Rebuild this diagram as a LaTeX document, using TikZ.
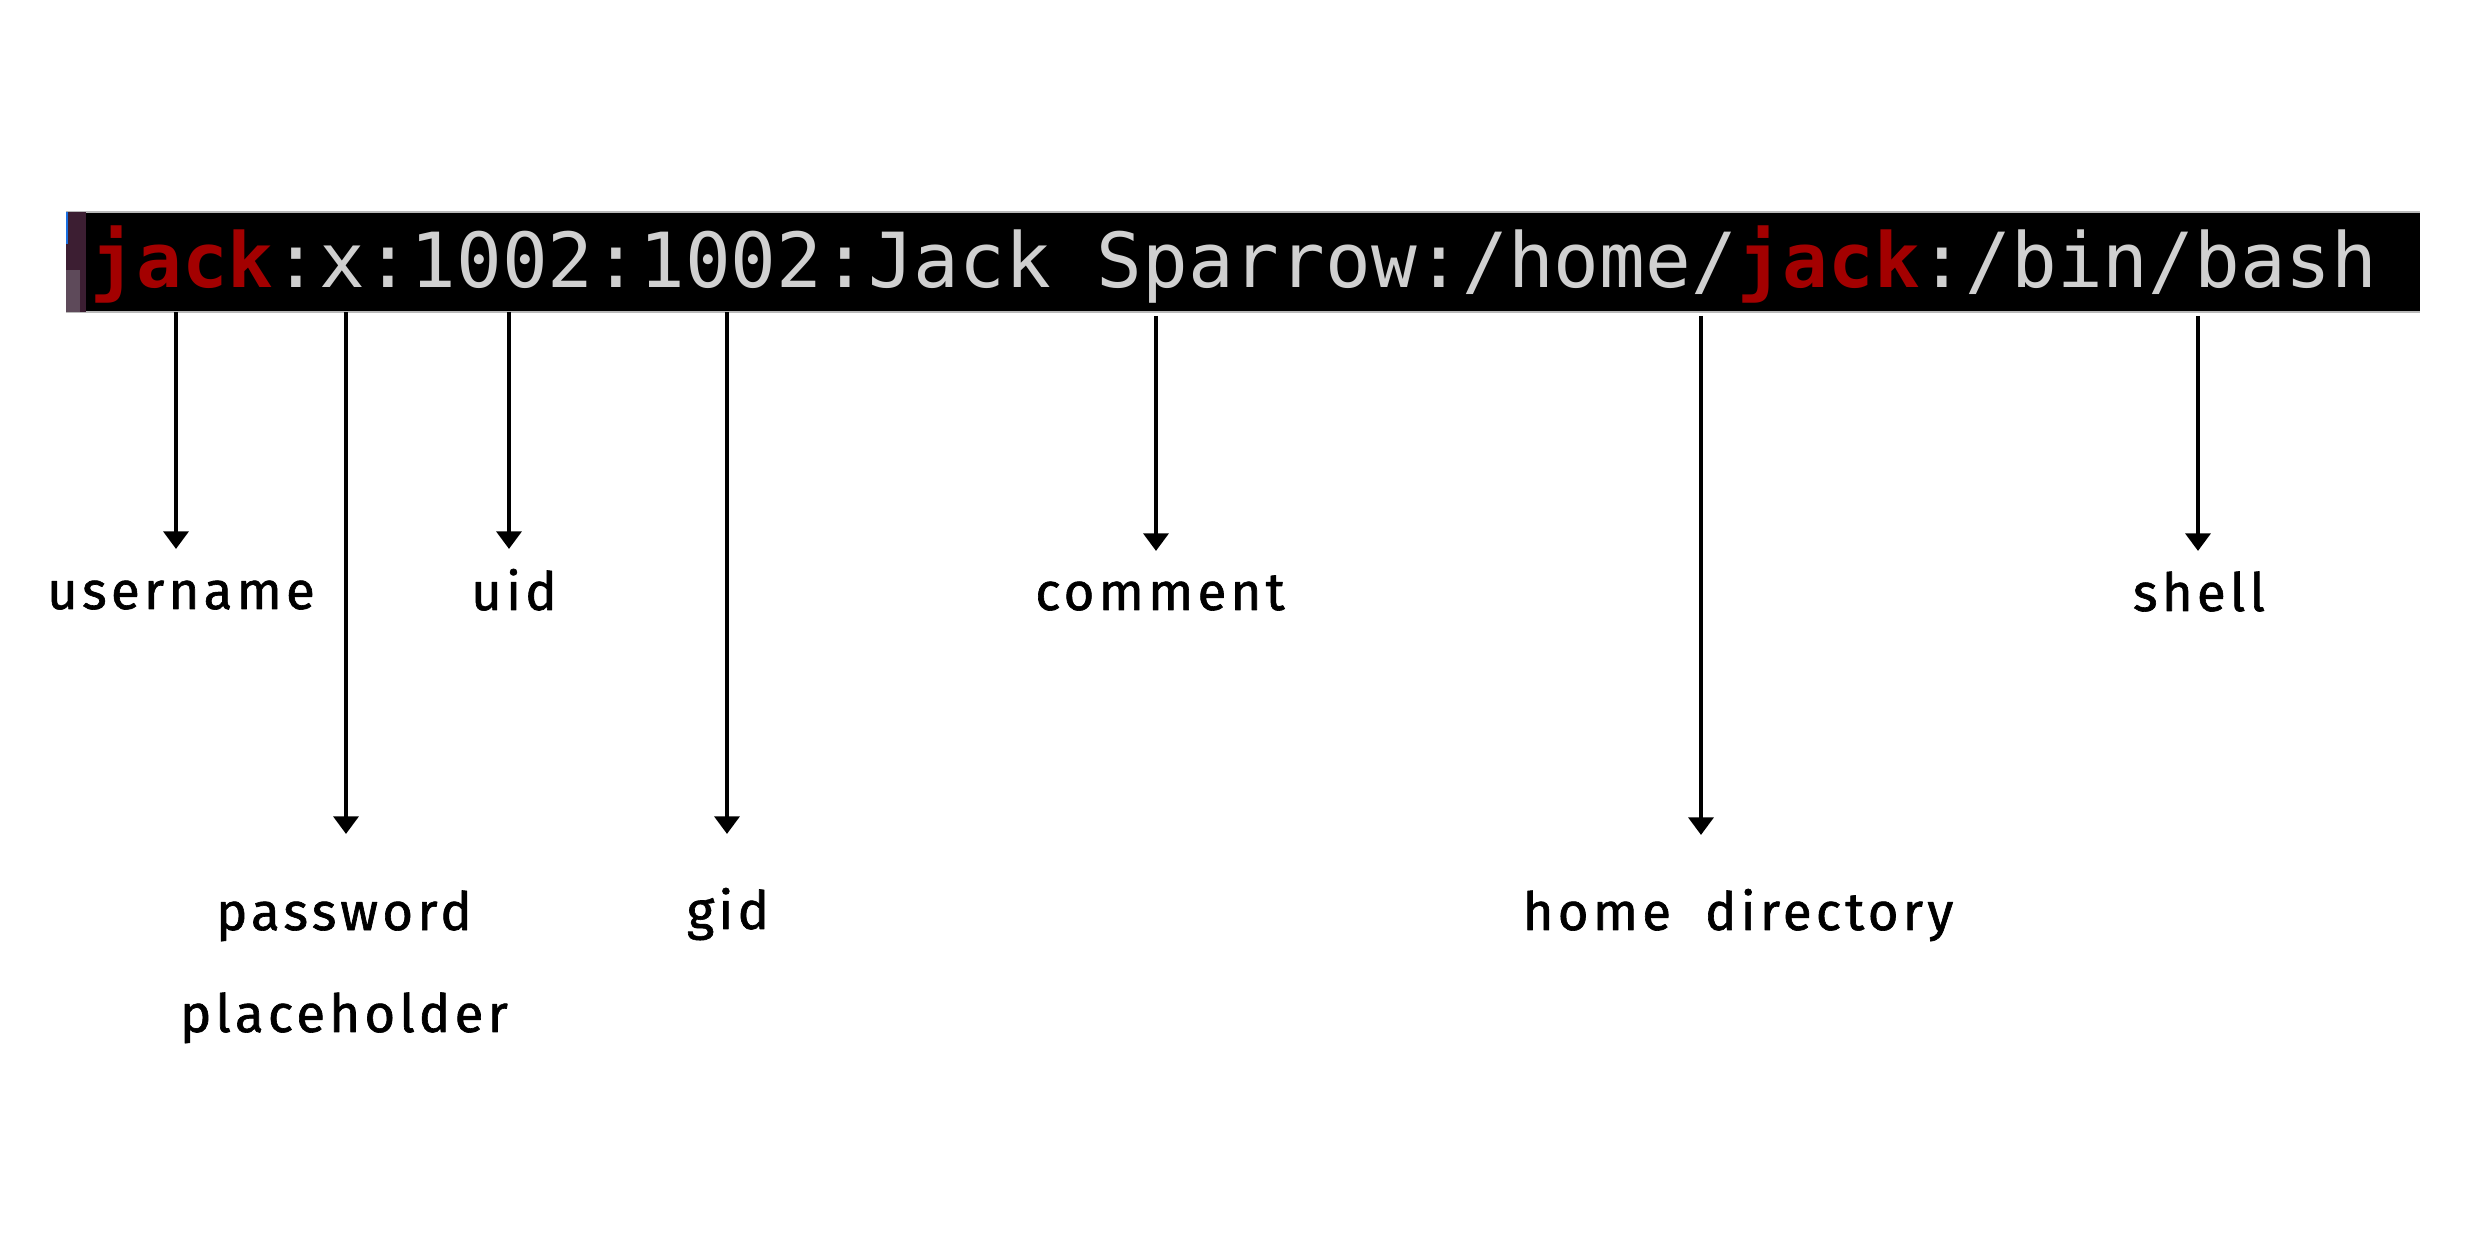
\documentclass[tikz,border=0pt]{standalone}
\usepackage{fontspec}
\setmonofont{DejaVu Sans Mono}
\newfontfamily\handfont[LetterSpace=8,FakeBold=1.2]{Fira Sans}
\usetikzlibrary{arrows.meta}
\definecolor{termred}{HTML}{A30000}
\definecolor{termgray}{HTML}{D0D0D0}
\definecolor{termedge}{HTML}{3C1E32}
\definecolor{termtab}{HTML}{5E4A5A}
\definecolor{termblue}{HTML}{1A6FE0}
\begin{document}
\begin{tikzpicture}[x=0.01cm,y=-0.01cm,line join=round,
		ptr/.style={-{Triangle[width=7pt,length=5pt]},line width=1.4pt},
		lbl/.style={font=\handfont\fontsize{15}{29}\selectfont,anchor=base,inner sep=0pt,align=center}]
	\useasboundingbox (0,0) rectangle (2480,1240);
	% terminal line
	\fill[black] (66,212) rectangle (2420,312);
	\draw[gray!55,line width=0.6pt] (66,212) -- (2420,212) (66,312) -- (2420,312);
	\fill[termedge] (66,212) rectangle (86,312);
	\fill[termtab] (66,270) rectangle (80,312);
	\fill[termblue] (66,212) rectangle (68,244);
	\node[anchor=base west,inner sep=0pt,font=\ttfamily\fontsize{21.6}{26}\selectfont,text=termgray] (entry) at (90,288)
		{\textcolor{termred}{\bfseries jack}:x:1002:1002:Jack Sparrow:/home/\textcolor{termred}{\bfseries jack}:/bin/bash};
	% fields
	\coordinate (f-user) at (176,312);
	\coordinate (f-pass) at (346,312);
	\coordinate (f-uid) at (509,312);
	\coordinate (f-gid) at (727,312);
	\coordinate (f-gecos) at (1156,316);
	\coordinate (f-home) at (1701,316);
	\coordinate (f-shell) at (2198,316);
	\coordinate (t-user) at (176,549);
	\coordinate (t-pass) at (346,834);
	\coordinate (t-uid) at (509,549);
	\coordinate (t-gid) at (727,834);
	\coordinate (t-gecos) at (1156,551);
	\coordinate (t-home) at (1701,835);
	\coordinate (t-shell) at (2198,551);
	% labels
	\node[lbl] (l-user) at (181,609) {username};
	\node[lbl] (l-pass) at (344,1032) {password\\placeholder};
	\node[lbl] (l-uid) at (514,610) {uid};
	\node[lbl] (l-gid) at (728,929) {gid};
	\node[lbl] (l-gecos) at (1160,610) {comment};
	\node[lbl] (l-home) at (1738,930) {home\hspace{0.3em} directory};
	\node[lbl] (l-shell) at (2199,611) {shell};
	% arrows
	\draw[ptr] (f-user) -- (t-user);
	\draw[ptr] (f-pass) -- (t-pass);
	\draw[ptr] (f-uid) -- (t-uid);
	\draw[ptr] (f-gid) -- (t-gid);
	\draw[ptr] (f-gecos) -- (t-gecos);
	\draw[ptr] (f-home) -- (t-home);
	\draw[ptr] (f-shell) -- (t-shell);
\end{tikzpicture}
\end{document}
